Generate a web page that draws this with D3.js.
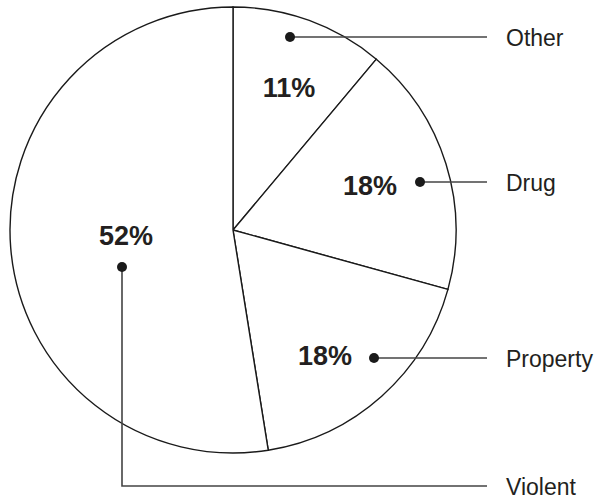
<!DOCTYPE html>
<html>
<head>
<meta charset="utf-8">
<script src="https://cdn.jsdelivr.net/npm/d3@7"></script>
<style>
  html, body { margin: 0; padding: 0; background: #fff; }
  svg { display: block; }
</style>
</head>
<body>
<svg id="chart" width="598" height="500"></svg>
<script>
// ---- data ----
const categories = ["Other", "Drug", "Property", "Violent"];
const values = [11, 18, 18, 52];
const pctLabels = ["11%", "18%", "18%", "52%"];

// ---- layout (annotation placement, not data) ----
const center = { x: 233, y: 230 };
const radius = 223;
const labelX = 506;      // category label x
const lineEndX = 487;    // where leader lines stop
const dots = [
  { x: 290, y: 37 },
  { x: 420, y: 182 },
  { x: 374, y: 358 },
  { x: 122, y: 267 }
];
const pctPos = [
  { x: 289, y: 97 },
  { x: 370, y: 195 },
  { x: 325, y: 365 },
  { x: 126, y: 245 }
];
const violentElbowY = 486;
const catBaselineOffset = 9;

const svg = d3.select("#chart");

const pie = d3.pie().sort(null).value(d => d);
const arcs = pie(values);
const arc = d3.arc().innerRadius(0).outerRadius(radius);

const g = svg.append("g").attr("transform", `translate(${center.x},${center.y})`);
g.selectAll("path.slice")
  .data(arcs)
  .enter().append("path")
  .attr("class", "slice")
  .attr("d", arc)
  .attr("fill", "#fff")
  .attr("stroke", "#1a1a1a")
  .attr("stroke-width", 1.4)
  .attr("stroke-linejoin", "miter");

// leader lines
const leaders = svg.append("g");
categories.forEach((c, i) => {
  const d = dots[i];
  let pts;
  if (c === "Violent") {
    pts = [[d.x, d.y], [d.x, violentElbowY], [lineEndX, violentElbowY]];
  } else {
    pts = [[d.x, d.y], [lineEndX, d.y]];
  }
  leaders.append("path")
    .attr("d", d3.line()(pts))
    .attr("fill", "none")
    .attr("stroke", "#444")
    .attr("stroke-width", 1.6);
  leaders.append("circle")
    .attr("cx", d.x).attr("cy", d.y).attr("r", 5)
    .attr("fill", "#1a1a1a");
  const ly = (c === "Violent" ? violentElbowY : d.y) + catBaselineOffset;
  leaders.append("text")
    .attr("x", labelX).attr("y", ly)
    .attr("font-family", "Liberation Sans, Arial, sans-serif")
    .attr("font-size", 23)
    .attr("fill", "#231f20")
    .text(c);
});

// percentage labels
svg.append("g").selectAll("text")
  .data(pctLabels)
  .enter().append("text")
  .attr("x", (d, i) => pctPos[i].x)
  .attr("y", (d, i) => pctPos[i].y)
  .attr("text-anchor", "middle")
  .attr("font-family", "Liberation Sans, Arial, sans-serif")
  .attr("font-weight", "bold")
  .attr("font-size", 27)
  .attr("fill", "#231f20")
  .text(d => d);
</script>
</body>
</html>
